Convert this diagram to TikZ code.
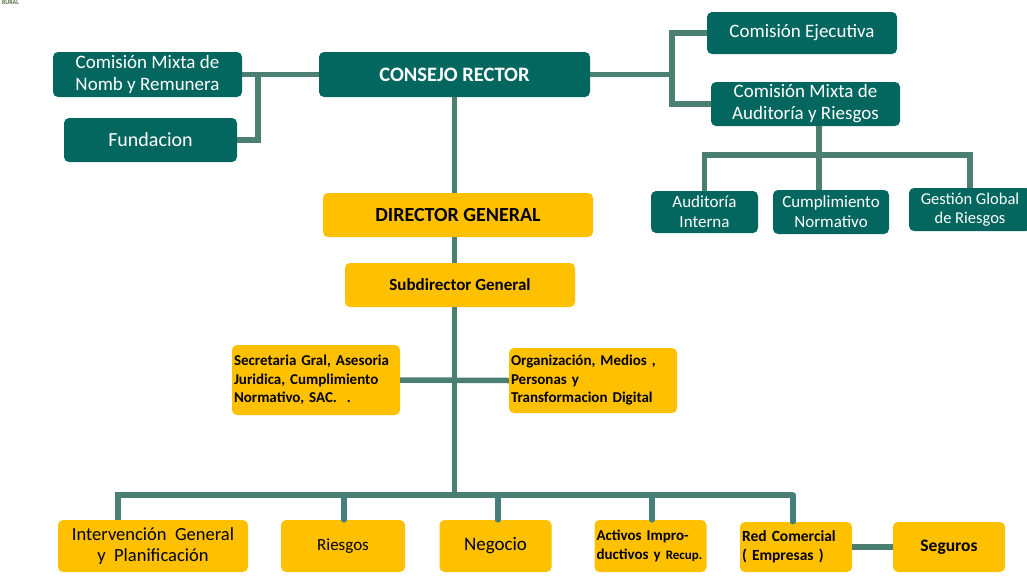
\documentclass[tikz,border=0pt]{standalone}
\usepackage{fontspec}
\setmainfont{Carlito}
\usetikzlibrary{calc}
\definecolor{tealbox}{HTML}{03675F}
\definecolor{connc}{HTML}{4A7F72}
\definecolor{dropc}{HTML}{437F7B}
\definecolor{yel}{HTML}{FFC000}
\definecolor{logo}{HTML}{4F6B3A}
\tikzset{
  tbox/.style={fill=tealbox, rounded corners=5pt, inner sep=0pt, text=white, align=center, font=\fontsize{19}{22}\selectfont},
  ybox/.style={fill=yel, rounded corners=5pt, inner sep=0pt, text=black, align=center, font=\fontsize{17}{20}\selectfont\bfseries},
  conn/.style={draw=connc, line width=5.5pt},
  drop/.style={draw=dropc, line width=5.5pt},
}
\begin{document}
\begin{tikzpicture}[x=1pt,y=-1pt]
\useasboundingbox (0,0) rectangle (1027,576);
\node[anchor=north west, inner sep=0pt, text=logo, font=\fontsize{6}{6}\selectfont\bfseries] (logo) at (2,0.5) {RURAL};
\coordinate (bl) at (118,495);
\coordinate (br) at (793,495);
\coordinate (b1) at (819,155);
% teal boxes
\node[tbox, minimum width=189, minimum height=45] (cmnr) at (147.5,74.5) {Comisión Mixta de\\Nomb y Remunera};
\node[tbox, minimum width=173, minimum height=44, font=\fontsize{20}{22}\selectfont] (fund) at (150.5,140) {Fundacion};
\node[tbox, minimum width=271, minimum height=45, font=\fontsize{20.5}{22}\selectfont\bfseries] (cr) at (454.5,74.5) {CONSEJO RECTOR};
\node[tbox, minimum width=190, minimum height=42] (ce) at (802,33) {Comisión Ejecutiva};
\node[tbox, minimum width=189, minimum height=44] (cmar) at (805.5,104) {Comisión Mixta de\\Auditoría y Riesgos};
\node[tbox, minimum width=107, minimum height=42, font=\fontsize{17}{20}\selectfont] (ai) at (704.5,212) {Auditoría\\Interna};
\node[tbox, minimum width=116, minimum height=44, font=\fontsize{17}{20}\selectfont] (cn) at (831,212) {Cumplimiento\\Normativo};
\node[tbox, minimum width=122, minimum height=43, font=\fontsize{16.5}{19}\selectfont] (gg) at (970,209.5) {Gestión Global\\de Riesgos};
% yellow boxes
\node[ybox, minimum width=270, minimum height=44, font=\fontsize{20}{22}\selectfont\bfseries] (dg) at (458,215) {DIRECTOR GENERAL};
\node[ybox, minimum width=230, minimum height=44] (sdg) at (460,285) {Subdirector General};
\node[ybox, minimum width=168, minimum height=70, text width=164, inner xsep=2pt, align=left, font=\fontsize{15}{18.5}\selectfont\bfseries] (sec) at (316,380) {Secretaria Gral, Asesoria\\Juridica, Cumplimiento\\Normativo, SAC.~~.};
\node[ybox, minimum width=168, minimum height=65, text width=164, inner xsep=2pt, align=left, font=\fontsize{15}{18.5}\selectfont\bfseries] (org) at (593,380.5) {Organización, Medios ,\\Personas y\\Transformacion Digital};
\node[ybox, minimum width=190, minimum height=52, font=\fontsize{18.5}{21}\selectfont\mdseries] (igp) at (153,546) {Intervención~~General\\y~~Planificación};
\node[ybox, minimum width=124, minimum height=52, font=\fontsize{17}{20}\selectfont\mdseries] (rie) at (343,546) {Riesgos};
\node[ybox, minimum width=112, minimum height=52, font=\fontsize{19}{20}\selectfont\mdseries] (neg) at (495.5,546) {Negocio};
\node[ybox, minimum width=112, minimum height=52, text width=108, inner xsep=2pt, align=left, font=\fontsize{15}{19}\selectfont\bfseries] (act) at (650.5,546) {Activos Impro-\\ductivos y {\fontsize{13}{19}\selectfont Recup.}};
\node[ybox, minimum width=112, minimum height=50, text width=108, inner xsep=2pt, align=left, font=\fontsize{15.5}{19}\selectfont\bfseries] (red) at (796,547) {Red Comercial\\( Empresas )};
\node[ybox, minimum width=112, minimum height=50, font=\fontsize{17.5}{20}\selectfont\bfseries] (seg) at (949,547) {Seguros};
% connectors
\draw[conn] (cmnr.east) -- (cr.west |- cmnr.east);
\draw[conn] (fund.east) -- ++(21,0) |- (cmnr.east);
\draw[conn] (cr.east) -- ++(82,0);
\draw[conn] (ce.west) -- ++(-35,0) |- (cmar.west);
\draw[conn] ($(cmar.south)+(13.5,0)$) -- (b1);
\draw[conn] (ai.north) |- (b1) -| (gg.north);
\draw[conn] (b1) -- (b1 |- cn.north);
\draw[conn] (cr.south) -- (cr.south |- dg.north);
\draw[conn] (dg.south -| cr.south) -- (sdg.north -| cr.south);
\draw[conn] (sdg.south -| cr.south) -- (cr.south |- bl);
\draw[conn] (sec.east) -- (org.west);
\draw[conn] (bl |- igp.north) -- (bl) -- (br);
\draw[drop, line cap=round] (br) -- (br |- red.north);
\draw[drop, line cap=round] ($(rie.north)+(1,0)$) -- ($(rie.north |- bl)+(1,0)$);
\draw[drop, line cap=round] ($(neg.north)+(2.5,0)$) -- ($(neg.north |- bl)+(2.5,0)$);
\draw[drop, line cap=round] ($(act.north)+(1.5,0)$) -- ($(act.north |- bl)+(1.5,0)$);
\draw[conn] (red.east) -- (seg.west);
\end{tikzpicture}
\end{document}
